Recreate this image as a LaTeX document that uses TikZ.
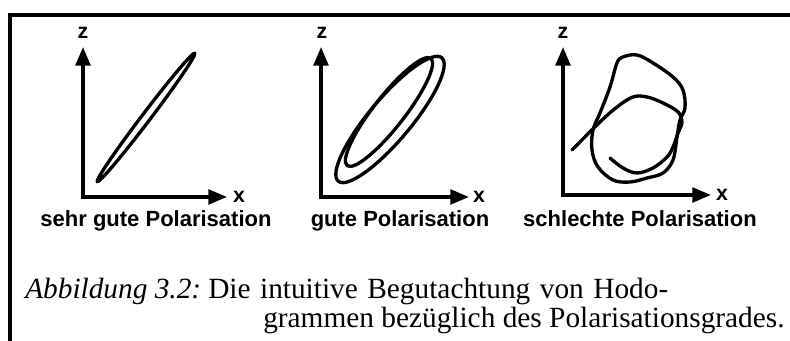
\documentclass[tikz,border=0pt]{standalone}
\usepackage{fontspec}
\setmainfont{Liberation Serif}
\setsansfont{Liberation Sans}
\usetikzlibrary{arrows.meta}

\tikzset{
  achse/.style={line width=2.6pt, line join=miter,
    {Triangle[length=14pt,width=11pt]}-{Triangle[length=14pt,width=11pt]}},
  kurve/.style={line width=2.5pt, line join=round, line cap=round},
  rahmen/.style={line width=2.4pt},
  achslabel/.style={font=\fontsize{16}{19}\sffamily\bfseries, inner sep=0pt},
  bildlabel/.style={font=\fontsize{16.5}{20}\sffamily\bfseries, inner sep=0pt, anchor=base},
  caption/.style={font=\fontsize{22}{27}\selectfont, inner sep=0pt, anchor=base west}
}

\begin{document}
\begin{tikzpicture}[x=0.75pt, y=0.75pt]

\useasboundingbox (0,0) rectangle (790,341);

%FRAME
\draw[rahmen] (10,0) -- (10,326) -- (790,326);

%PANEL 1 sehr gute Polarisation
\coordinate (o1) at (83,144);
\coordinate (z1) at (83,294);
\coordinate (x1) at (227,144);
\draw[achse] (z1) -- (o1) -- (x1);
\node[achslabel] (zlab1) at (83,308) {z};
\node[achslabel] (xlab1) at (239,144) {x};
\draw[kurve, rotate around={52.8:(146,223.5)}] (146,223.5) ellipse [x radius=60.5pt, y radius=3.2pt];
\node[bildlabel] (lab1) at (156,114) {sehr gute Polarisation};

%PANEL 2 gute Polarisation
\coordinate (o2) at (321,144);
\coordinate (z2) at (321,294);
\coordinate (x2) at (469,144);
\draw[achse] (z2) -- (o2) -- (x2);
\node[achslabel] (zlab2) at (322,308) {z};
\node[achslabel] (xlab2) at (479,144) {x};
\draw[kurve, rotate around={50:(390,221.5)}] (390,221.5) ellipse [x radius=60.4pt, y radius=15.7pt];
\draw[kurve, rotate around={52:(389,229)}] (389,229) ellipse [x radius=51pt, y radius=11.6pt];
\node[bildlabel] (lab2) at (400,114) {gute Polarisation};

%PANEL 3 schlechte Polarisation
\coordinate (o3) at (563,146);
\coordinate (z3) at (563,294);
\coordinate (x3) at (711,146);
\draw[achse] (z3) -- (o3) -- (x3);
\node[achslabel] (zlab3) at (563,308) {z};
\node[achslabel] (xlab3) at (722,146) {x};
\draw[kurve] plot[smooth cycle, tension=0.6] coordinates {
  (623,284) (637,286) (653,278) (673,264) (683,251) (685,233) (680,221)
  (677,204) (673,181) (663,168) (647,163) (630,159) (613,161) (598,174)
  (592,191) (593,211) (600,228) (610,254) (617,278)};
\draw[kurve] plot[smooth, tension=0.6] coordinates {
  (572,191) (600,219) (617,234) (633,244) (647,244) (663,238) (678,229)
  (682,219) (678,208) (673,194) (667,184) (653,173) (637,168) (623,173) (610,183)};
\node[bildlabel] (lab3) at (640,114) {schlechte Polarisation};

%%%%%%%%%%%%%%%%%%%%
%CAPTION
\node[caption, font=\fontsize{22}{27}\itshape] (abb) at (25,42) {Abbildung 3.2:};
\node[caption] (zeile1) at (208,42) {\makebox[345pt][s]{Die intuitive Begutachtung von Hodo-}};
\node[caption] (zeile2) at (263,13) {grammen bezüglich des Polarisationsgrades.};

\end{tikzpicture}
\end{document}
